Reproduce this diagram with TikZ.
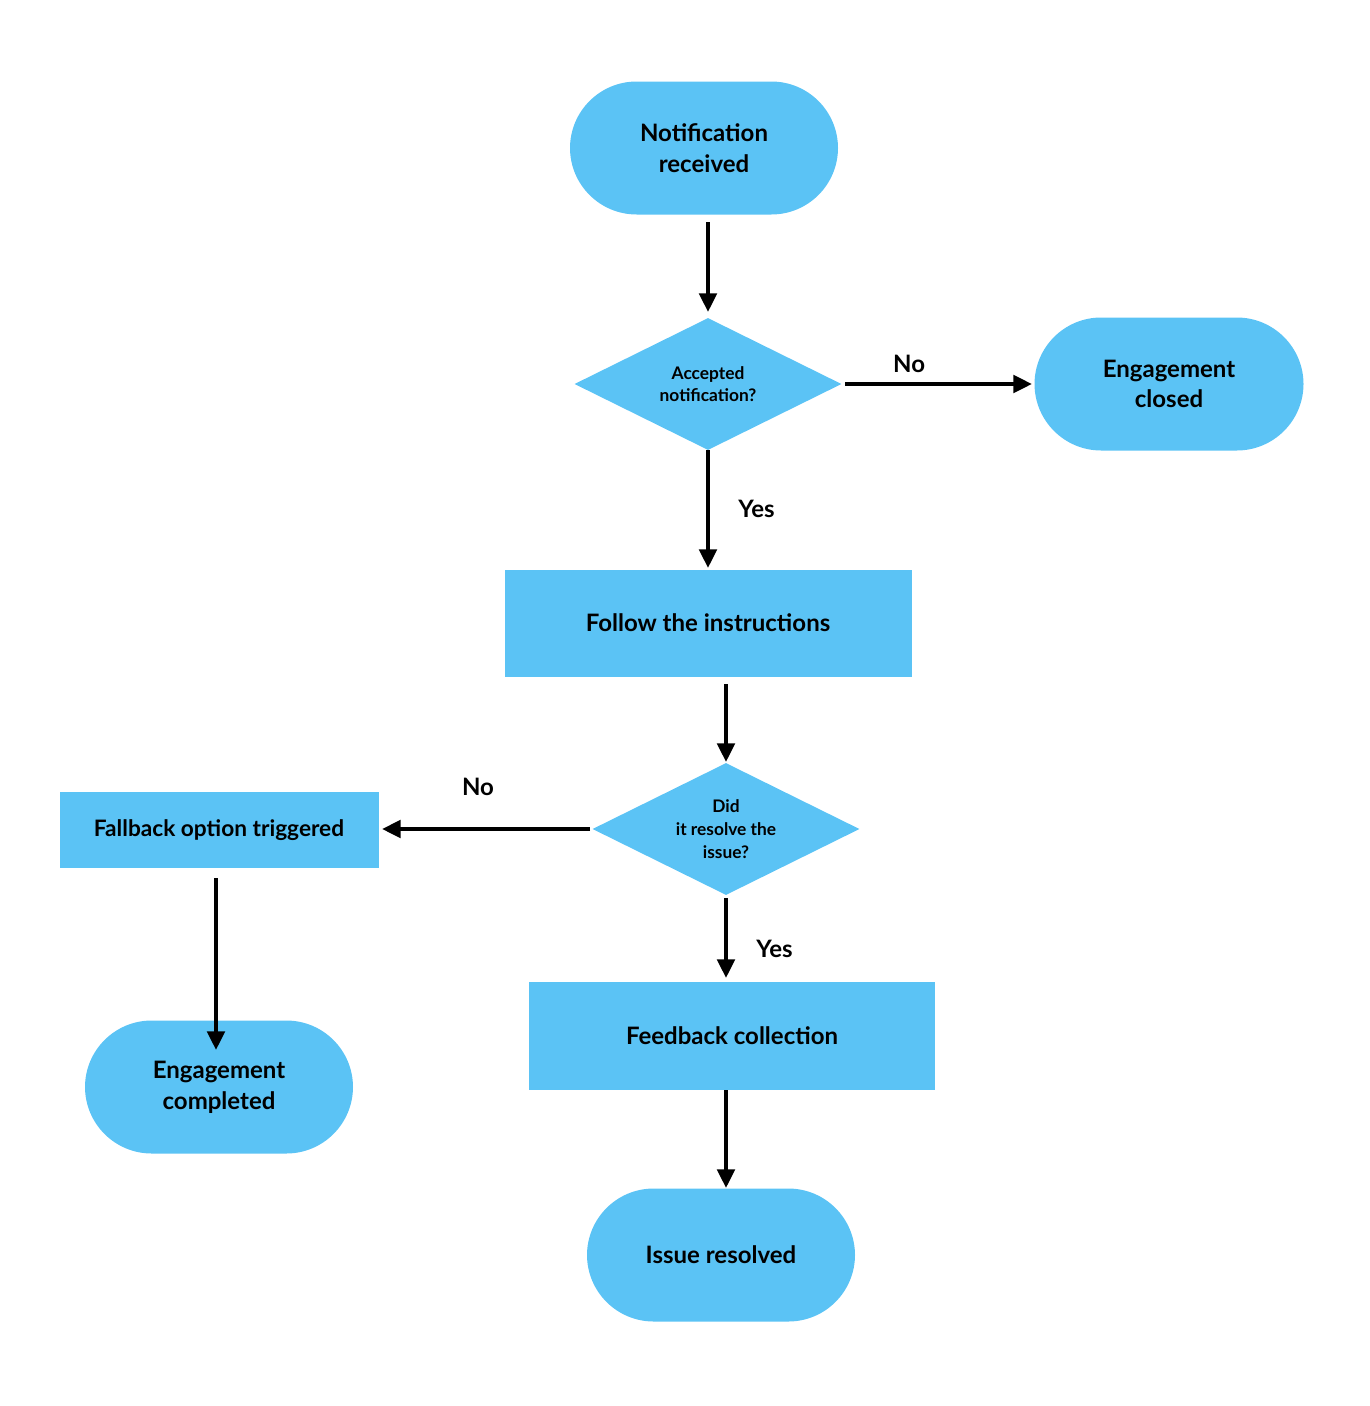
\documentclass[tikz,border=0pt]{standalone}
\usepackage{fontspec}
\setmainfont{Lato}
\usetikzlibrary{shapes.geometric,arrows.meta}
\definecolor{fillb}{HTML}{5BC3F5}
\begin{document}
\begin{tikzpicture}[x=0.75pt,y=-0.75pt,
  base/.style={fill=fillb,draw=none,font=\bfseries\fontsize{18}{23}\selectfont,align=center,inner sep=0pt},
  term/.style={base,rounded corners=50pt,minimum width=268*0.75pt,minimum height=133*0.75pt},
  box/.style={base},
  dec/.style={base,diamond,aspect=2,font=\bfseries\fontsize{13}{17}\selectfont,minimum width=267*0.75pt,minimum height=132*0.75pt},
  arr/.style={line width=3pt,-{Triangle[length=14pt,width=13pt]}},
  lab/.style={font=\bfseries\fontsize{18}{22}\selectfont}]
\useasboundingbox (0,0) rectangle (1370,1406);
\node[term] (n) at (704,148) {Notification\\received};
\node[dec,minimum width=267*0.75pt,minimum height=132*0.75pt] (d1) at (708,384) {Accepted\\notification?};
\node[term,minimum width=269*0.75pt] (ec) at (1169,384) {Engagement\\closed};
\node[box,minimum width=407*0.75pt,minimum height=107*0.75pt] (f) at (708,623) {Follow the instructions};
\node[dec] (d2) at (726,829) {Did\\it resolve the\\issue?};
\node[box,minimum width=319*0.75pt,minimum height=76*0.75pt,font=\bfseries\fontsize{17}{21}\selectfont] (fb) at (219,830) {Fallback option triggered};
\node[term] (cp) at (219,1087) {Engagement\\completed};
\node[box,minimum width=406*0.75pt,minimum height=108*0.75pt] (fc) at (732,1036) {Feedback collection};
\node[term] (ir) at (721,1255) {Issue resolved};
\coordinate (a1) at (708,222); \coordinate (a2) at (708,312);
\draw[arr] (a1) -- (a2);
\coordinate (b1) at (845,384); \coordinate (b2) at (1032,384);
\draw[arr] (b1) -- (b2) node[lab,midway,above=4pt,xshift=-22pt] {No};
\coordinate (c1) at (708,450); \coordinate (c2) at (708,568);
\draw[arr] (c1) -- (c2) node[lab,midway,right=18pt] {Yes};
\coordinate (e1) at (726,684); \coordinate (e2) at (726,762);
\draw[arr] (e1) -- (e2);
\coordinate (g1) at (590,829); \coordinate (g2) at (382,829);
\draw[arr] (g1) -- (g2) node[lab,midway,above=20pt,xshift=-6pt] {No};
\coordinate (h1) at (726,898); \coordinate (h2) at (726,978);
\draw[arr] (h1) -- (h2) node[lab,midway,right=18pt,yshift=-8pt] {Yes};
\coordinate (i1) at (726,1090); \coordinate (i2) at (726,1188);
\draw[arr] (i1) -- (i2);
\coordinate (j1) at (216,878); \coordinate (j2) at (216,1050);
\draw[arr] (j1) -- (j2);
\end{tikzpicture}
\end{document}
